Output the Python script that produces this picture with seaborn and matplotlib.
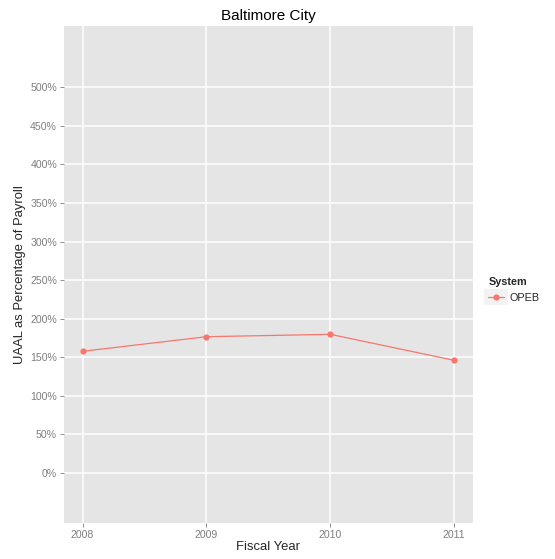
import pandas as pd
import matplotlib
matplotlib.use('Agg')
import matplotlib.pyplot as plt
from matplotlib.patches import Rectangle
import seaborn as sns

years = [2008, 2009, 2010, 2011]
opeb = [157.8, 176.7, 179.8, 146.1]
system = ['OPEB'] * 4
yticks = [0, 50, 100, 150, 200, 250, 300, 350, 400, 450, 500]

df = pd.DataFrame({'Fiscal Year': years, 'UAAL': opeb, 'System': system})

sns.set_style('darkgrid', {'axes.facecolor': '#E5E5E5', 'grid.color': 'white'})
plt.rcParams['font.family'] = ['Liberation Sans', 'DejaVu Sans']

fig = plt.figure(figsize=(5.55, 5.59), dpi=100)
ax = fig.add_axes([64/555, 36/559, 408.7/555, 497/559])

sns.lineplot(data=df, x='Fiscal Year', y='UAAL', hue='System', palette=['#F8766D'],
             marker='o', markersize=4.5, markeredgewidth=0, linewidth=0.9, ax=ax)

ax.set_xlim(2007.85, 2011.15)
ax.set_ylim(-64.8, 579.5)
ax.set_xticks(years)
ax.set_xticklabels([str(y) for y in years])
ax.set_yticks(yticks)
ax.set_yticklabels([f'{v}%' for v in yticks])
ax.grid(True, color='white', linewidth=1.1)
for s in ax.spines.values():
    s.set_visible(False)
ax.tick_params(axis='both', colors='#7F7F7F', labelsize=7.6, length=3, width=0.6,
               direction='out', pad=2, left=True, bottom=True)

ax.set_title('Baltimore City', fontsize=11, color='black', pad=4)
ax.set_xlabel('Fiscal Year', fontsize=9.4, labelpad=1)
ax.set_ylabel('UAAL as Percentage of Payroll', fontsize=9.4, labelpad=3)

leg = ax.legend(title='System', loc='upper left', bbox_to_anchor=(1.02, 0.51),
                frameon=False, fontsize=7.8, title_fontsize=7.8, handlelength=1.4,
                borderaxespad=0.3, handletextpad=0.5)
leg.get_title().set_fontweight('bold')
leg._legend_box.align = 'left'

# grey key background like ggplot
fig.canvas.draw()
h = leg.legend_handles[0]
bb = h.get_window_extent(fig.canvas.get_renderer())
inv = fig.transFigure.inverted()
(x0, y0), (x1, y1) = inv.transform([[bb.x0, bb.y0], [bb.x1, bb.y1]])
cy = (y0 + y1) / 2
hh = 16 / 559
fig.patches.append(Rectangle((x0 - 1/555, cy - hh/2), (x1 - x0) + 2/555, hh,
                             transform=fig.transFigure, facecolor='#F2F2F2',
                             edgecolor='none', zorder=-1))

plt.savefig('out.png', dpi=100)
